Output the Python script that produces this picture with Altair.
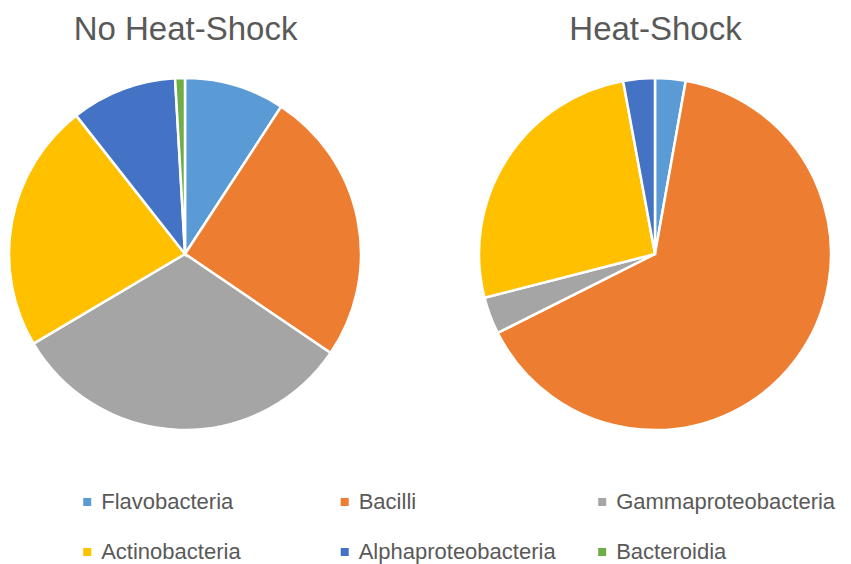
import altair as alt
import pandas as pd

categories = ["Flavobacteria", "Bacilli", "Gammaproteobacteria",
              "Actinobacteria", "Alphaproteobacteria", "Bacteroidia"]
colors = ["#5B9BD5", "#ED7D31", "#A5A5A5", "#FFC000", "#4472C4", "#70AD47"]
conditions = ["No Heat-Shock", "Heat-Shock"]
no_heat_shock = [9.2, 25.3, 32.0, 22.9, 9.7, 0.9]
heat_shock = [2.8, 64.8, 3.4, 26.1, 2.9, 0.0]

rows = []
for cond, vals in zip(conditions, [no_heat_shock, heat_shock]):
    for i, (c, v) in enumerate(zip(categories, vals)):
        rows.append({"condition": cond, "category": c, "value": v, "order": i})
df = pd.DataFrame(rows)

FONT = "Liberation Sans"
GREY = "#595959"

chart = (
    alt.Chart(df)
    .transform_window(
        end="sum(value)",
        groupby=["condition"],
        sort=[alt.SortField("order")],
        frame=[None, 0],
    )
    .transform_calculate(start="datum.end - datum.value")
    .transform_filter("datum.value > 0")
    .mark_arc(radius=176, stroke="white", strokeWidth=2.5)
    .encode(
        x=alt.X(
            "condition:N",
            sort=conditions,
            scale=alt.Scale(type="point", padding=0.3766),
            axis=alt.Axis(
                orient="top", title=None, domain=False, ticks=False, grid=False,
                labelFontSize=33, labelFont=FONT, labelColor=GREY,
                labelPadding=9, labelBaseline="alphabetic", labelAngle=0,
                labelLimit=400,
            ),
        ),
        theta=alt.Theta("start:Q", scale=alt.Scale(domain=[0, 100], range=[0, 6.283185307179586])),
        theta2="end:Q",
        color=alt.Color(
            "category:N",
            scale=alt.Scale(domain=categories, range=colors),
            legend=alt.Legend(
                title=None, orient="none", legendX=68.2, legendY=443,
                columns=3, direction="horizontal", gridAlign="all",
                columnPadding=13.5, rowPadding=28,
                symbolType="square", symbolSize=64, symbolStrokeWidth=0,
                labelFontSize=22, labelFont=FONT, labelColor=GREY,
                labelLimit=400, labelOffset=3,
            ),
        ),
    )
    .properties(
        width=824, height=412,
        autosize=alt.AutoSizeParams(type="none"),
        padding={"left": 0, "top": 40, "right": 11, "bottom": 110},
    )
    .configure_view(stroke=None)
)

chart.save("out.html", embed_options={"renderer": "svg", "actions": False})
